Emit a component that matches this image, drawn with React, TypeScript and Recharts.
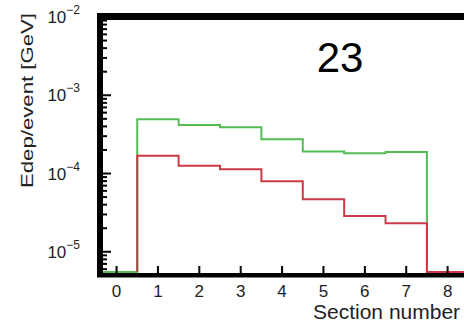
import React from 'react';
import { LineChart, Line, XAxis, YAxis } from 'recharts';

// energy deposit per event in each section, two samples
const sections = [1, 2, 3, 4, 5, 6, 7];
const edepGreen = [4.93e-4, 4.18e-4, 3.9e-4, 2.74e-4, 1.91e-4, 1.81e-4, 1.89e-4];
const edepRed = [1.69e-4, 1.26e-4, 1.13e-4, 7.97e-5, 4.7e-5, 2.87e-5, 2.32e-5];

const xTicks = [0, 1, 2, 3, 4, 5, 6, 7, 8];
const yDecades = [1e-5, 1e-4, 1e-3, 1e-2];
const yMinorSteps = [2, 3, 4, 5, 6, 7, 8, 9];

const X_MIN = -0.4;
const X_MAX = 9;
const Y_MIN = 5.2e-6;
const Y_MAX = 1e-2;
// empty bins sit on the bottom of the frame
const EMPTY = 5.5e-6;

const W = 464;
const H = 322;
const CHART_W = 489;
const PLOT_LEFT = 100;
const PLOT_TOP = 17;
const X_AXIS_H = 48;
const PLOT_BOTTOM = H - X_AXIS_H;

const FONT = '"Liberation Sans", Arial, Helvetica, sans-serif';
const GREEN = '#55bb55';
const RED = '#cc3a46';

const yTicks: number[] = [];
[1e-6, ...yDecades].forEach(d => {
  yMinorSteps.forEach(m => {
    const v = d * m;
    if (v >= Y_MIN && v < Y_MAX) yTicks.push(v);
  });
});
yDecades.forEach(d => yTicks.push(d));
yTicks.sort((a, b) => a - b);

// histogram outline as points on the bin edges (drawn with stepAfter)
const histPoints = (values: number[], startX: number) => [
  { x: startX, y: EMPTY },
  ...sections.map((s, i) => ({ x: s - 0.5, y: values[i] })),
  { x: sections[sections.length - 1] + 0.5, y: EMPTY },
  { x: X_MAX, y: EMPTY },
];

const greenData = histPoints(edepGreen, X_MIN);
const redData = histPoints(edepRed, sections[0] - 0.5);

// same linear mapping the x axis uses, for the inward tick marks on the frame
const xPixel = (v: number) => PLOT_LEFT + ((v - X_MIN) / (X_MAX - X_MIN)) * (CHART_W - PLOT_LEFT);

const YTick = (props: any) => {
  const { x, y, payload } = props;
  const lg = Math.log10(payload.value);
  const exp = Math.round(lg);
  const major = Math.abs(lg - exp) < 1e-6;
  return (
    <g>
      <line x1={x} x2={x + (major ? 11 : 7)} y1={y} y2={y} stroke="#000" strokeWidth={2} />
      {major && (
        <text x={x - 20} y={y + 6} textAnchor="end" fontFamily={FONT} fontSize={17} fill="#222">
          10
          <tspan dy={-9} fontSize={12}>{'\u2212' + Math.abs(exp)}</tspan>
        </text>
      )}
    </g>
  );
};

const XTick = (props: any) => {
  const { x, y, payload } = props;
  return (
    <text x={x} y={y + 23} textAnchor="middle" fontFamily={FONT} fontSize={17} fill="#222">
      {payload.value}
    </text>
  );
};

export default function App() {
  return (
    <div style={{ position: 'fixed', left: 0, top: 0, width: W, height: H, overflow: 'hidden', background: '#fff' }}>
      <LineChart width={CHART_W} height={H} margin={{ top: PLOT_TOP, right: 0, bottom: 0, left: 0 }}>
        <XAxis
          dataKey="x"
          type="number"
          domain={[X_MIN, X_MAX]}
          allowDataOverflow
          ticks={xTicks}
          interval={0}
          height={X_AXIS_H}
          tickSize={0}
          tickMargin={0}
          tickLine={false}
          axisLine={false}
          tick={<XTick />}
        />
        <YAxis
          type="number"
          scale="log"
          domain={[Y_MIN, Y_MAX]}
          allowDataOverflow
          ticks={yTicks}
          interval={0}
          width={PLOT_LEFT}
          tickSize={0}
          tickMargin={0}
          tickLine={false}
          axisLine={false}
          tick={<YTick />}
        />
        <Line data={greenData} dataKey="y" type="stepAfter" stroke={GREEN} strokeWidth={2} dot={false} isAnimationActive={false} />
        <Line data={redData} dataKey="y" type="stepAfter" stroke={RED} strokeWidth={2} dot={false} isAnimationActive={false} />
      </LineChart>
      {/* thick frame, x tick marks and titles */}
      <svg width={W} height={H} style={{ position: 'absolute', left: 0, top: 0, pointerEvents: 'none' }}>
        <rect x={PLOT_LEFT - 3} y={PLOT_TOP - 4} width={W} height={7} fill="#000" />
        <rect x={PLOT_LEFT - 3} y={PLOT_TOP - 4} width={6} height={PLOT_BOTTOM - PLOT_TOP + 7} fill="#000" />
        <rect x={PLOT_LEFT - 3} y={PLOT_BOTTOM - 1} width={W} height={4.5} fill="#000" />
        {xTicks.map(t => (
          <line key={t} x1={xPixel(t)} x2={xPixel(t)} y1={PLOT_BOTTOM} y2={PLOT_BOTTOM - 8} stroke="#000" strokeWidth={2} />
        ))}
        <text x={340} y={72} textAnchor="middle" fontFamily={FONT} fontSize={42} fill="#000">23</text>
        <text x={313} y={319} fontFamily={FONT} fontSize={21} fill="#222">Section number</text>
        <text
          x={33}
          y={13}
          textAnchor="end"
          transform="rotate(-90, 33, 13)"
          fontFamily={FONT}
          fontSize={16}
          textLength={175}
          lengthAdjust="spacingAndGlyphs"
          fill="#222"
        >
          Edep/event [GeV]
        </text>
      </svg>
    </div>
  );
}
